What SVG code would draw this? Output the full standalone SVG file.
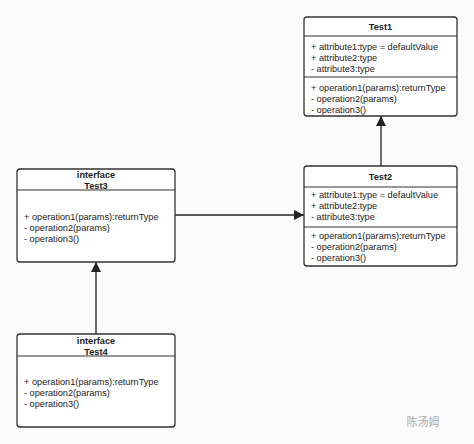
<svg xmlns="http://www.w3.org/2000/svg" width="474" height="444" viewBox="0 0 474 444">
<defs>
<marker id="tri" viewBox="0 0 10 10" refX="10" refY="5" markerWidth="10" markerHeight="10" markerUnits="userSpaceOnUse" orient="auto">
<path d="M0,0 L10,5 L0,10 z" fill="#222"/>
</marker>
</defs>
<style>
.box{fill:#fff;stroke:#333;stroke-width:1.3}
.div{stroke:#333;stroke-width:1.1}
.t{font-family:"Liberation Sans",Arial,sans-serif;font-size:9.2px;fill:#222}
.h{font-family:"Liberation Sans",Arial,sans-serif;font-size:9.2px;font-weight:bold;fill:#222;text-anchor:middle}
.edge{stroke:#222;stroke-width:1.3;fill:none;marker-end:url(#tri)}
</style>
<rect width="474" height="444" fill="#fbfbfb"/>
<g id="connectors">
<line class="edge" x1="175" y1="215" x2="304" y2="215"/>
<line class="edge" x1="381" y1="166" x2="381" y2="116"/>
<line class="edge" x1="96" y1="334" x2="96" y2="262"/>
</g>
<g id="Test1">
<rect class="box" x="304" y="17" width="153" height="99" rx="3"/>
<line class="div" x1="304" y1="36" x2="457" y2="36"/>
<line class="div" x1="304" y1="77" x2="457" y2="77"/>
<text class="h" x="380.5" y="30">Test1</text>
<text class="t" x="311" y="50">+ attribute1:type = defaultValue</text>
<text class="t" x="311" y="61">+ attribute2:type</text>
<text class="t" x="311" y="72">- attribute3:type</text>
<text class="t" x="311" y="91">+ operation1(params):returnType</text>
<text class="t" x="311" y="102">- operation2(params)</text>
<text class="t" x="311" y="113">- operation3()</text>
</g>
<g id="Test2">
<rect class="box" x="304" y="166" width="153" height="100" rx="3"/>
<line class="div" x1="304" y1="187" x2="457" y2="187"/>
<line class="div" x1="304" y1="227" x2="457" y2="227"/>
<text class="h" x="380.5" y="180">Test2</text>
<text class="t" x="311" y="198">+ attribute1:type = defaultValue</text>
<text class="t" x="311" y="209">+ attribute2:type</text>
<text class="t" x="311" y="220">- attribute3:type</text>
<text class="t" x="311" y="239">+ operation1(params):returnType</text>
<text class="t" x="311" y="250">- operation2(params)</text>
<text class="t" x="311" y="261">- operation3()</text>
</g>
<g id="Test3">
<rect class="box" x="17" y="169" width="158" height="93" rx="3"/>
<line class="div" x1="17" y1="190" x2="175" y2="190"/>
<text class="h" x="96" y="178">interface</text>
<text class="h" x="96" y="189">Test3</text>
<text class="t" x="24" y="220">+ operation1(params):returnType</text>
<text class="t" x="24" y="231">- operation2(params)</text>
<text class="t" x="24" y="242">- operation3()</text>
</g>
<g id="Test4">
<rect class="box" x="17" y="334" width="158" height="93" rx="3"/>
<line class="div" x1="17" y1="356" x2="175" y2="356"/>
<text class="h" x="96" y="344">interface</text>
<text class="h" x="96" y="355">Test4</text>
<text class="t" x="24" y="385">+ operation1(params):returnType</text>
<text class="t" x="24" y="396">- operation2(params)</text>
<text class="t" x="24" y="407">- operation3()</text>
</g>
<g id="watermark">
<text x="423" y="426" font-family="Noto Sans CJK SC, sans-serif" font-size="11" fill="#aaa" text-anchor="middle">陈汤姆</text>
</g>
</svg>
